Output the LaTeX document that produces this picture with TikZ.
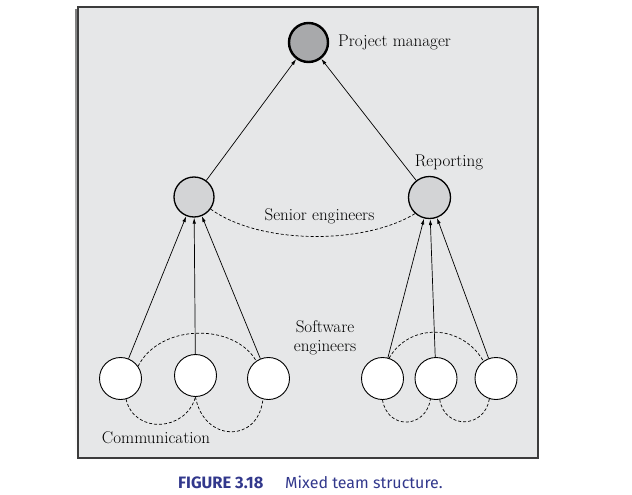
\documentclass[tikz,border=0pt]{standalone}
\usepackage{fontspec}
\newfontfamily\capfont{Fira Sans}
\usetikzlibrary{arrows.meta}
\definecolor{panel}{RGB}{230,231,232}
\definecolor{boxline}{RGB}{60,60,60}
\definecolor{shade}{RGB}{130,130,130}
\definecolor{pmfill}{RGB}{168,169,171}
\definecolor{srfill}{RGB}{211,212,214}
\definecolor{capblue}{RGB}{50,56,140}

\begin{document}
\begin{tikzpicture}[x=1pt,y=1pt,
  person/.style={circle,draw,inner sep=0pt,minimum size=42pt,fill=white,line width=0.9pt},
  senior/.style={person,fill=srfill,line width=1.3pt,minimum size=40pt},
  manager/.style={person,fill=pmfill,line width=2.4pt,minimum size=39pt},
  report/.style={-{Latex[length=6pt,width=3.5pt]},line width=0.7pt},
  talk/.style={line width=0.7pt,dash pattern=on 3pt off 2pt},
  lbl/.style={font=\fontsize{17}{19}\selectfont,inner sep=0pt}]

\useasboundingbox (0,0) rectangle (632,-495);

% grey panel and its shadow
\fill[shade] (75,-10) rectangle (535,-461);
\draw[boxline,fill=panel,line width=1.4pt] (78,-7) rectangle (538,-458);

% the people
\node[manager] (pm) at (308.5,-42.5) {};
\node[senior] (sl) at (194,-197) {};
\node[senior,minimum size=42pt] (sr) at (429.5,-197.5) {};
\node[person] (l1) at (120.5,-378.5) {};
\node[person] (l2) at (195.5,-375.5) {};
\node[person] (l3) at (268.5,-378.5) {};
\node[person] (r1) at (382.5,-378.5) {};
\node[person] (r2) at (436,-378.5) {};
\node[person] (r3) at (496,-378.5) {};

% reporting lines
\draw[report] (sl) -- (pm);
\draw[report] (sr) -- (pm);
\draw[report] (l1) -- (sl);
\draw[report] (l2) -- (sl);
\draw[report] (l3) -- (sl);
\draw[report] (r1) -- (sr);
\draw[report] (r2) -- (sr);
\draw[report] (r3) -- (sr);

% communication paths
\draw[talk] (sl.-36) .. controls +(50,-36) and +(-50,-31) .. (sr.-132);
\draw[talk] (l1.35) .. controls +(22,43) and +(-22,38) .. (l3.125);
\draw[talk] (l1.-75) .. controls +(8,-35) and +(-10,-35) .. (l2.-90);
\draw[talk] (l2.-90) .. controls +(8,-45) and +(-5,-45) .. (l3.-105);
\draw[talk] (r1.72) .. controls +(20,35) and +(-22,38) .. (r3.126);
\draw[talk] (r1.-90) .. controls +(5,-30) and +(-5,-30) .. (r2.-105);
\draw[talk] (r2.-80) .. controls +(5,-30) and +(-5,-30) .. (r3.-108);

% labels
\node[lbl,anchor=west] (tpm) at (338,-42) {Project manager};
\node[lbl] (trep) at (449,-162) {Reporting};
\node[lbl] (tsen) at (319.5,-216) {Senior engineers};
\node[lbl,align=center] (tsw) at (325,-338) {Software\\engineers};
\node[lbl] (tcom) at (156,-438) {Communication};

% caption
\node[font=\capfont\bfseries\fontsize{16.5}{18}\selectfont,text=capblue,anchor=base west,inner sep=0pt] (capnum) at (178,-488) {FIGURE 3.18};
\node[font=\capfont\fontsize{16}{18}\selectfont,text=capblue,anchor=base west,inner sep=0pt] (captxt) at (285,-488) {Mixed team structure.};
\end{tikzpicture}
\end{document}
